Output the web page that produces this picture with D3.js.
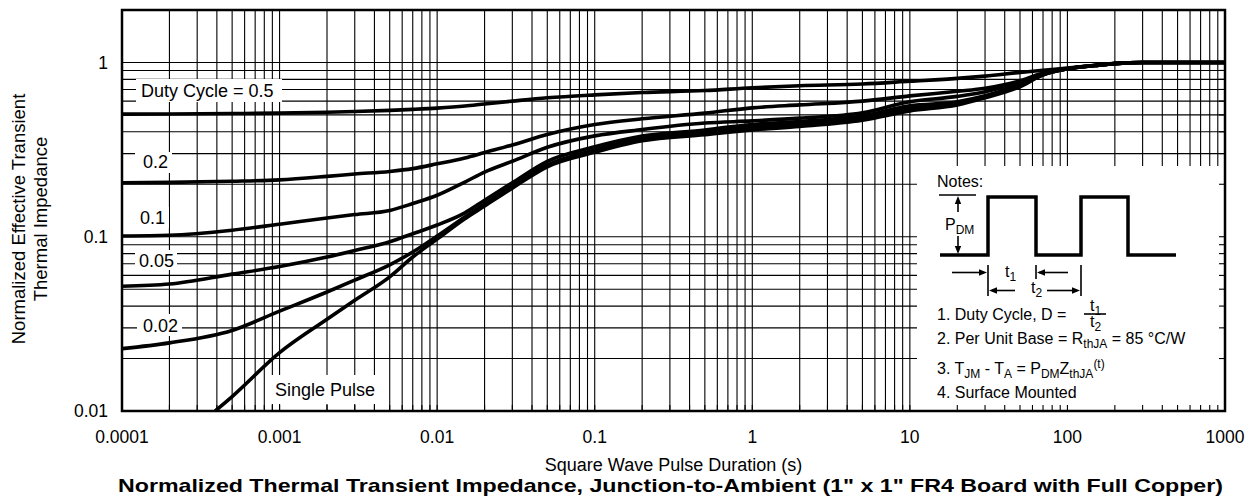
<!DOCTYPE html>
<html>
<head>
<meta charset="utf-8">
<script src="https://cdn.jsdelivr.net/npm/d3@7"></script>
<style>
  body { margin: 0; background: #fff; }
  text { font-family: "Liberation Sans", Arial, Helvetica, sans-serif; fill: #000; }
</style>
</head>
<body>
<svg id="chart" width="1256" height="504"></svg>
<script>
// pulse durations (s) shared by the duty cycle curves
const times = [1e-4, 2e-4, 5e-4, 1e-3, 2e-3, 3e-3, 5e-3, 7e-3, 1e-2, 1.5e-2, 2e-2, 3e-2, 5e-2,
  0.1, 0.2, 0.5, 1, 2, 5, 10, 20, 30, 50, 70, 100, 150, 200, 300, 500, 1000];

const duty050 = [0.505, 0.506, 0.509, 0.512, 0.518, 0.523, 0.531, 0.538, 0.547, 0.562, 0.578, 0.60, 0.627,
  0.652, 0.672, 0.69, 0.716, 0.735, 0.752, 0.78, 0.81, 0.835, 0.876, 0.902, 0.929, 0.963, 0.99, 1.0, 1.0, 1.0];
const duty020 = [0.204, 0.205, 0.208, 0.212, 0.222, 0.229, 0.237, 0.246, 0.262, 0.283, 0.304, 0.336, 0.386,
  0.44, 0.475, 0.512, 0.549, 0.571, 0.60, 0.643, 0.683, 0.711, 0.785, 0.87, 0.92, 0.96, 0.985, 1.0, 1.0, 1.0];
const duty010 = [0.101, 0.102, 0.109, 0.118, 0.128, 0.134, 0.1415, 0.155, 0.173, 0.206, 0.235, 0.271, 0.326,
  0.379, 0.412, 0.449, 0.462, 0.479, 0.515, 0.595, 0.639, 0.679, 0.77, 0.86, 0.92, 0.96, 0.985, 1.0, 1.0, 1.0];
const duty005 = [0.052, 0.0535, 0.061, 0.0674, 0.0764, 0.0833, 0.0936, 0.104, 0.1167, 0.137, 0.162, 0.204, 0.271,
  0.328, 0.378, 0.41, 0.441, 0.458, 0.494, 0.564, 0.595, 0.644, 0.745, 0.85, 0.92, 0.96, 0.985, 1.0, 1.0, 1.0];
const duty002 = [0.0228, 0.0246, 0.029, 0.0374, 0.0482, 0.0564, 0.069, 0.0817, 0.101, 0.13, 0.154, 0.196, 0.258,
  0.315, 0.366, 0.395, 0.425, 0.444, 0.481, 0.545, 0.583, 0.635, 0.735, 0.85, 0.92, 0.96, 0.985, 1.0, 1.0, 1.0];

// single pulse starts at the bottom of the chart
const singleTimes = [3.9e-4, 5e-4, 1e-3, 2e-3, 3e-3, 5e-3, 7e-3, 1e-2, 1.5e-2, 2e-2, 3e-2, 5e-2,
  0.1, 0.2, 0.5, 1, 2, 5, 10, 20, 30, 50, 70, 100, 150, 200, 300, 500, 1000];
const singlePulse = [0.01, 0.0121, 0.0216, 0.0336, 0.0432, 0.0589, 0.0765, 0.097, 0.127, 0.15, 0.19, 0.252,
  0.305, 0.355, 0.385, 0.41, 0.429, 0.466, 0.527, 0.571, 0.627, 0.725, 0.85, 0.92, 0.96, 0.985, 1.0, 1.0, 1.0];

const xTickValues = [1e-4, 1e-3, 1e-2, 0.1, 1, 10, 100, 1000];
const xTickLabels = ["0.0001", "0.001", "0.01", "0.1", "1", "10", "100", "1000"];
const yTickValues = [0.01, 0.1, 1];
const yTickLabels = ["0.01", "0.1", "1"];

const curveNames = ["Duty Cycle = 0.5", "0.2", "0.1", "0.05", "0.02", "Single Pulse"];

// chart frame
const width = 1256, height = 504;
const margin = {top: 10, right: 31, bottom: 93, left: 122};
const x0 = margin.left, x1 = width - margin.right;
const y0 = margin.top, y1 = height - margin.bottom;

const svg = d3.select("#chart");

const x = d3.scaleLog().domain([1e-4, 1e3]).range([x0, x1]);
const y = d3.scaleLog().domain([0.01, 2]).range([y1, y0]);

// grid values: 1..9 of every decade
const xGrid = [];
for (let e = -4; e <= 2; e++) for (let k = 1; k <= 9; k++) xGrid.push(k * Math.pow(10, e));
xGrid.push(1000);
const yGrid = [];
for (let e = -2; e <= -1; e++) for (let k = 1; k <= 9; k++) yGrid.push(k * Math.pow(10, e));
yGrid.push(1, 2);

const grid = svg.append("g").attr("stroke", "#000").attr("stroke-width", 1.1);
grid.selectAll(".vx").data(xGrid).enter().append("line")
  .attr("x1", d => x(d)).attr("x2", d => x(d))
  .attr("y1", y0).attr("y2", y1);
grid.selectAll(".hy").data(yGrid).enter().append("line")
  .attr("x1", x0).attr("x2", x1)
  .attr("y1", d => y(d)).attr("y2", d => y(d));

// white boxes behind the curve labels
const labelBoxes = [
  {x: 136, y: 79, w: 146, h: 23, tx: 141, ty: 97},
  {x: 135, y: 152, w: 37, h: 21, tx: 143, ty: 168},
  {x: 135, y: 207, w: 34, h: 21, tx: 140, ty: 224},
  {x: 135, y: 250, w: 42, h: 20, tx: 139, ty: 267},
  {x: 137, y: 314, w: 45, h: 22, tx: 143, ty: 332},
  {x: 270, y: 375, w: 111, h: 29, tx: 275, ty: 396}
];
svg.selectAll(".lblbox").data(labelBoxes).enter().append("rect")
  .attr("x", d => d.x).attr("y", d => d.y).attr("width", d => d.w).attr("height", d => d.h)
  .attr("fill", "#fff");

// curves
svg.append("clipPath").attr("id", "plotclip").append("rect")
  .attr("x", x0).attr("y", y0).attr("width", x1 - x0).attr("height", y1 - y0);

const series = [duty050, duty020, duty010, duty005, duty002].map(v => times.map((t, i) => [t, v[i]]));
series.push(singleTimes.map((t, i) => [t, singlePulse[i]]));

const line = d3.line().x(d => x(d[0])).y(d => y(d[1])).curve(d3.curveMonotoneX);
svg.append("g").attr("clip-path", "url(#plotclip)")
  .selectAll("path").data(series).enter().append("path")
  .attr("d", line).attr("fill", "none").attr("stroke", "#000")
  .attr("stroke-width", 3.6).attr("stroke-linejoin", "round");

svg.selectAll(".lbl").data(labelBoxes).enter().append("text")
  .attr("x", d => d.tx).attr("y", d => d.ty)
  .style("font-size", "18px")
  .text((d, i) => curveNames[i]);

// notes box
const nb = {x: 917, y: 166};
svg.append("rect").attr("x", nb.x).attr("y", nb.y)
  .attr("width", x1 - nb.x).attr("height", y1 - nb.y).attr("fill", "#fff");

// inner tick marks on bottom and right edges
const ticks = svg.append("g").attr("stroke", "#000").attr("stroke-width", 1.1);
ticks.selectAll(".tb").data(xGrid).enter().append("line")
  .attr("x1", d => x(d)).attr("x2", d => x(d)).attr("y1", y1).attr("y2", y1 - 6);
ticks.selectAll(".tr").data(yGrid).enter().append("line")
  .attr("x1", x1).attr("x2", x1 - 6).attr("y1", d => y(d)).attr("y2", d => y(d));

// frame
svg.append("rect").attr("x", x0).attr("y", y0).attr("width", x1 - x0).attr("height", y1 - y0)
  .attr("fill", "none").attr("stroke", "#000").attr("stroke-width", 2.5);

// tick labels
svg.selectAll(".xt").data(xTickValues).enter().append("text")
  .attr("x", d => x(d)).attr("y", 443).attr("text-anchor", "middle")
  .style("font-size", "17.5px").text((d, i) => xTickLabels[i]);
svg.selectAll(".yt").data(yTickValues).enter().append("text")
  .attr("x", 108).attr("y", d => y(d) + 6.3).attr("text-anchor", "end")
  .style("font-size", "17.5px").text((d, i) => yTickLabels[i]);

// axis titles
svg.append("text").attr("x", (x0 + x1) / 2).attr("y", 471).attr("text-anchor", "middle")
  .style("font-size", "18px").text("Square Wave Pulse Duration (s)");
svg.append("text").attr("x", 118).attr("y", 492)
  .attr("textLength", 1105).attr("lengthAdjust", "spacingAndGlyphs")
  .style("font-size", "19px").style("font-weight", "bold")
  .text("Normalized Thermal Transient Impedance, Junction-to-Ambient (1\" x 1\" FR4 Board with Full Copper)");
svg.append("text").attr("transform", "translate(25,219) rotate(-90)").attr("text-anchor", "middle")
  .style("font-size", "18.5px").text("Normalized Effective Transient");
svg.append("text").attr("transform", "translate(46.5,219) rotate(-90)").attr("text-anchor", "middle")
  .style("font-size", "18.5px").text("Thermal Impedance");

// notes content
const notes = svg.append("g");
function richText(px, py, parts, size) {
  const t = notes.append("text").attr("x", px).attr("y", py).style("font-size", size + "px");
  let shift = 0;
  parts.forEach(p => {
    const kind = p[1] || "n";
    const target = kind === "sub" ? 4 : kind === "sup" ? -6 : 0;
    t.append("tspan").attr("dy", target - shift)
      .style("font-size", kind === "n" ? size + "px" : (size * 0.75) + "px")
      .text(p[0]);
    shift = target;
  });
  return t;
}
richText(937, 187, [["Notes:"]], 16);
richText(945, 230, [["P"], ["DM", "sub"]], 16);
richText(1005, 277, [["t"], ["1", "sub"]], 16);
richText(1031, 292.5, [["t"], ["2", "sub"]], 16);
richText(937, 319.5, [["1. Duty Cycle, D = "]], 16);
richText(1090, 311, [["t"], ["1", "sub"]], 16);
richText(1090, 327, [["t"], ["2", "sub"]], 16);
richText(937, 344, [["2. Per Unit Base = R"], ["thJA", "sub"], [" = 85 °C/W"]], 16);
richText(937, 373.5, [["3. T"], ["JM", "sub"], [" - T"], ["A", "sub"], [" = P"], ["DM", "sub"], ["Z"], ["thJA", "sub"], ["(t)", "sup"]], 16);
richText(937, 397.5, [["4. Surface Mounted"]], 16);

// waveform and dimension arrows
const waveform = [[940, 255], [988, 255], [988, 197], [1036, 197], [1036, 255], [1081, 255], [1081, 197], [1128, 197], [1128, 255], [1176, 255]];
notes.append("path").attr("d", d3.line()(waveform)).attr("fill", "none")
  .attr("stroke", "#000").attr("stroke-width", 3.5).attr("stroke-linejoin", "miter");

const thin = [
  [[939, 195], [976, 195]],
  [[958, 199], [958, 212]],
  [[958, 236], [958, 251]],
  [[952, 272.5], [984, 272.5]],
  [[1039, 272.5], [1068, 272.5]],
  [[988, 265], [988, 296]],
  [[1036, 265], [1036, 279]],
  [[1081, 265], [1081, 296]],
  [[992, 290.5], [1015, 290.5]],
  [[1047, 290.5], [1077, 290.5]],
  [[1084, 314], [1106, 314]]
];
notes.selectAll(".thin").data(thin).enter().append("path")
  .attr("d", d => d3.line()(d)).attr("stroke", "#000").attr("stroke-width", 1.6).attr("fill", "none");

// arrow heads: tip point and direction
const heads = [
  {tip: [958, 196], dir: "up"},
  {tip: [958, 254], dir: "down"},
  {tip: [987, 272.5], dir: "right"},
  {tip: [1037, 272.5], dir: "left"},
  {tip: [989, 290.5], dir: "left"},
  {tip: [1080, 290.5], dir: "right"}
];
function headPath(h) {
  const [tx, ty] = h.tip, L = 8, W = 3.2;
  if (h.dir === "up") return `M${tx},${ty}L${tx - W},${ty + L}L${tx + W},${ty + L}Z`;
  if (h.dir === "down") return `M${tx},${ty}L${tx - W},${ty - L}L${tx + W},${ty - L}Z`;
  if (h.dir === "right") return `M${tx},${ty}L${tx - L},${ty - W}L${tx - L},${ty + W}Z`;
  return `M${tx},${ty}L${tx + L},${ty - W}L${tx + L},${ty + W}Z`;
}
notes.selectAll(".head").data(heads).enter().append("path")
  .attr("d", headPath).attr("fill", "#000");
</script>
</body>
</html>
